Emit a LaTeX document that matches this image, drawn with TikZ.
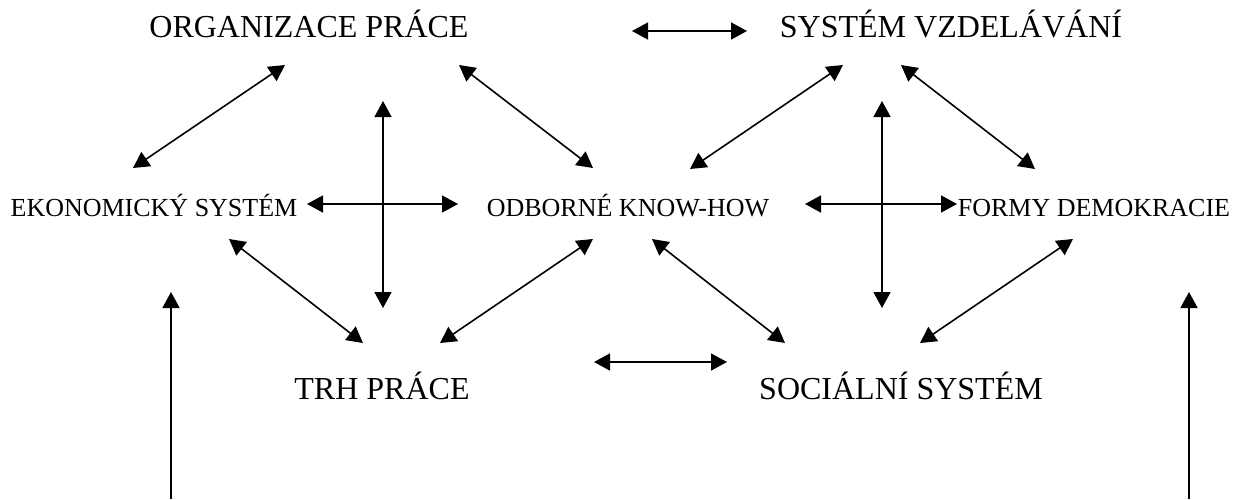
\documentclass[tikz,border=0pt]{standalone}
\usepackage{fontspec}
\setmainfont{Liberation Serif}
\usetikzlibrary{arrows.meta}

\tikzset{
	bigtext/.style={anchor=base,inner sep=0pt,font=\fontsize{16}{18}\selectfont},
	smalltext/.style={anchor=base,inner sep=0pt,font=\fontsize{13}{15}\selectfont},
	link/.style={line width=0.8pt,{Triangle[length=8pt,width=8.5pt]}-{Triangle[length=8pt,width=8.5pt]}},
	uplink/.style={line width=0.8pt,-{Triangle[length=8pt,width=8.5pt]}}
}

\begin{document}
\begin{tikzpicture}[x=0.5pt,y=-0.5pt]
	\useasboundingbox (0,0) rectangle (1242,499);
	
	% texty
	\node[bigtext] (org) at (309,37) {ORGANIZACE PRÁCE};
	\node[bigtext] (sys) at (951,37) {SYSTÉM VZDELÁVÁNÍ};
	\node[smalltext] (eko) at (154,216) {EKONOMICKÝ SYSTÉM};
	\node[smalltext] (odb) at (628,216) {ODBORNÉ KNOW-HOW};
	\node[smalltext] (frm) at (1094,216) {FORMY DEMOKRACIE};
	\node[bigtext] (trh) at (382,399) {TRH PRÁCE};
	\node[bigtext] (soc) at (901,399) {SOCIÁLNÍ SYSTÉM};
	
	% konce sipek
	\coordinate (os1) at (632,31);   \coordinate (os2) at (747,31);
	\coordinate (oe1) at (285,65);   \coordinate (oe2) at (133,168);
	\coordinate (oo1) at (459,65);   \coordinate (oo2) at (593,168);
	\coordinate (so1) at (843,65);   \coordinate (so2) at (690,169);
	\coordinate (sf1) at (901,65);   \coordinate (sf2) at (1035,169);
	\coordinate (vl1) at (383,101);  \coordinate (vl2) at (383,308);
	\coordinate (vr1) at (882,101);  \coordinate (vr2) at (882,308);
	\coordinate (eo1) at (307,204);  \coordinate (eo2) at (458,204);
	\coordinate (of1) at (805,204);  \coordinate (of2) at (957,204);
	\coordinate (et1) at (229,239);  \coordinate (et2) at (363,343);
	\coordinate (ot1) at (593,239);  \coordinate (ot2) at (440,343);
	\coordinate (oc1) at (652,239);  \coordinate (oc2) at (785,343);
	\coordinate (fc1) at (1073,239); \coordinate (fc2) at (920,343);
	\coordinate (ts1) at (594,362);  \coordinate (ts2) at (727,362);
	\coordinate (ul1) at (171,499);  \coordinate (ul2) at (171,292);
	\coordinate (ur1) at (1189,499); \coordinate (ur2) at (1189,292);
	
	\draw[link] (os1) -- (os2);
	\draw[link] (oe1) -- (oe2);
	\draw[link] (oo1) -- (oo2);
	\draw[link] (so1) -- (so2);
	\draw[link] (sf1) -- (sf2);
	\draw[link] (vl1) -- (vl2);
	\draw[link] (vr1) -- (vr2);
	\draw[link] (eo1) -- (eo2);
	\draw[link] (of1) -- (of2);
	\draw[link] (et1) -- (et2);
	\draw[link] (ot1) -- (ot2);
	\draw[link] (oc1) -- (oc2);
	\draw[link] (fc1) -- (fc2);
	\draw[link] (ts1) -- (ts2);
	
	\draw[uplink] (ul1) -- (ul2);
	\draw[uplink] (ur1) -- (ur2);
\end{tikzpicture}
\end{document}
